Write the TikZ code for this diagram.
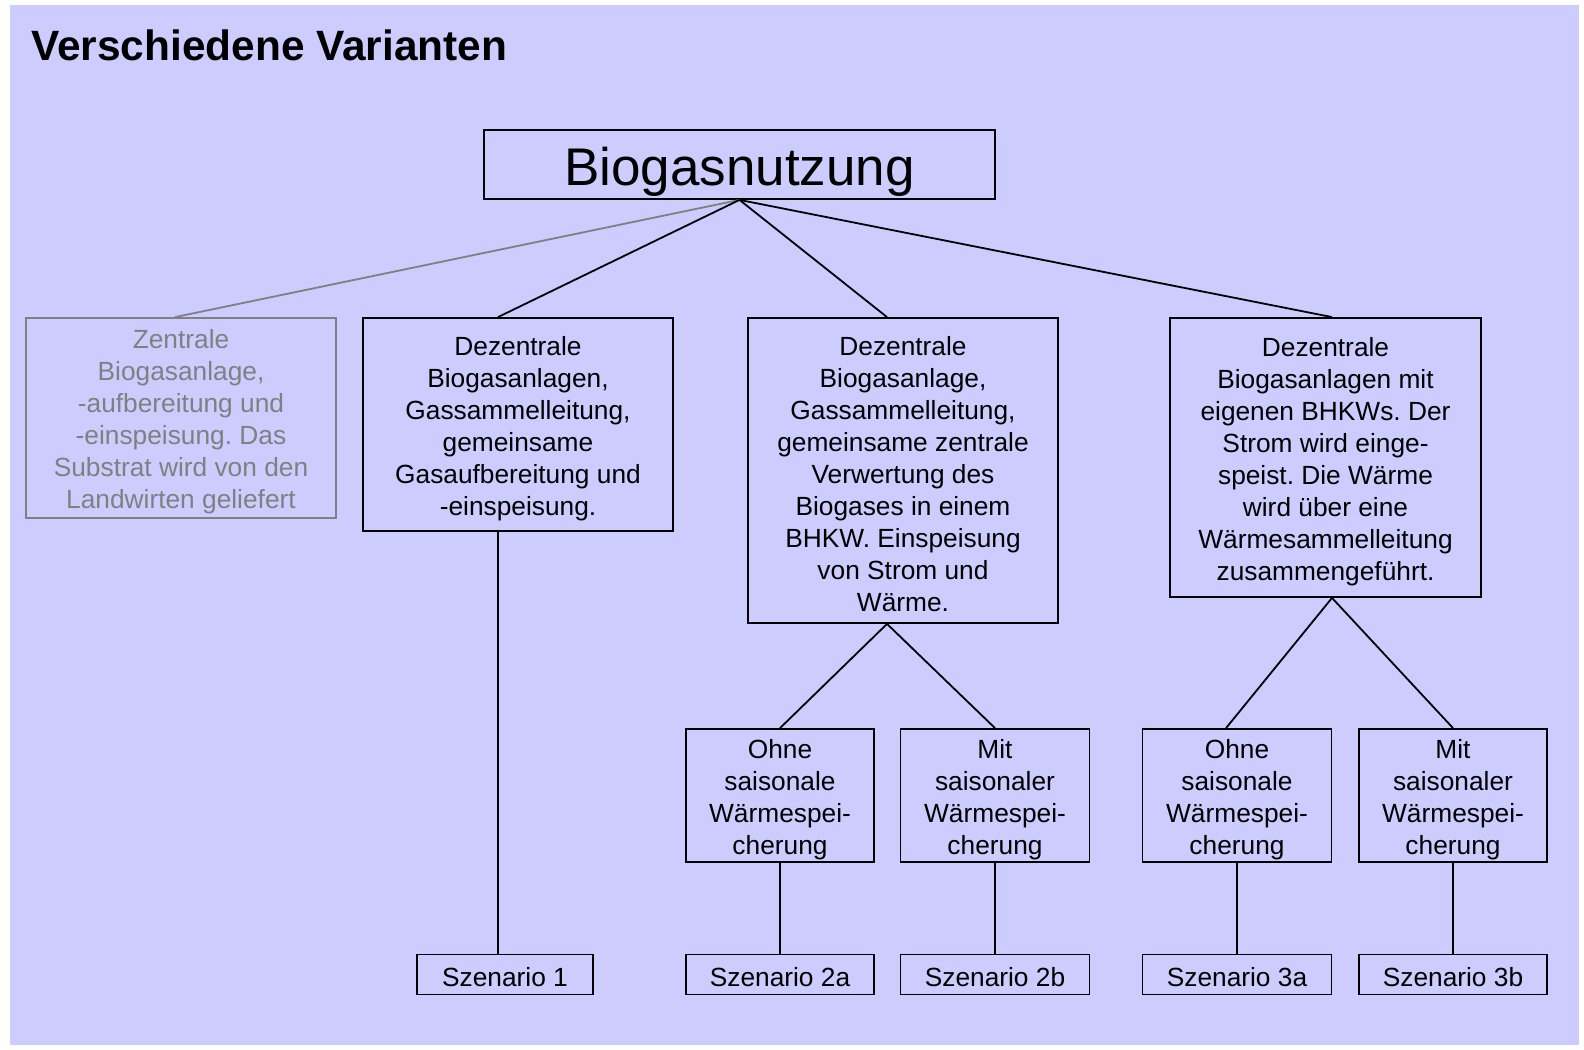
\documentclass[tikz,border=0pt]{standalone}
\usepackage{fontspec}
\setmainfont{Liberation Sans}
\definecolor{bgblue}{HTML}{CCCCFF}
\definecolor{grayish}{HTML}{808080}
\newcommand\mystrut{\rule{0pt}{27.2pt}}
\newcommand\scstrut{\rule{0pt}{23.5pt}}
\newcommand\rootstrut{\rule{0pt}{52pt}}
\frenchspacing
\begin{document}
\begin{tikzpicture}[x=1pt,y=-1pt,
  box/.style={draw=black, line width=1.8pt, inner sep=0pt, align=center,
    font=\fontsize{26.3}{32}\selectfont},
  graybox/.style={box, draw=grayish, text=grayish},
  edge/.style={line width=1.8pt, draw=black},
  grayedge/.style={line width=1.8pt, draw=grayish}]
\useasboundingbox (0,0) rectangle (1584,1049);
\fill[bgblue] (10,5) rectangle (1579,1045);

\node[anchor=base west, inner sep=0pt, font=\fontsize{42.4}{50}\selectfont\bfseries] (title) at (31,61) {Verschiedene Varianten};

\node[box, minimum width=511pt, minimum height=69pt, font=\fontsize{53}{60}\selectfont] (root) at (739.5,164.5) {\rootstrut Biogasnutzung};

\node[graybox, minimum width=310pt, minimum height=200pt] (A) at (181,418)
  {\mystrut Zentrale\\Biogasanlage,\\-aufbereitung und\\-einspeisung. Das\\Substrat wird von den\\Landwirten geliefert};
\node[box, minimum width=310pt, minimum height=213pt] (B) at (518,424.5)
  {\mystrut Dezentrale\\Biogasanlagen,\\Gassammelleitung,\\gemeinsame\\Gasaufbereitung und\\-einspeisung.};
\node[box, minimum width=310pt, minimum height=305pt] (C) at (903,470.5)
  {\mystrut Dezentrale\\Biogasanlage,\\Gassammelleitung,\\gemeinsame zentrale\\Verwertung des\\Biogases in einem\\BHKW. Einspeisung\\von Strom und\\Wärme.};
\node[box, minimum width=311pt, minimum height=279pt] (D) at (1325.5,457.5)
  {\mystrut Dezentrale\\Biogasanlagen mit\\eigenen BHKWs. Der\\Strom wird einge-\\speist. Die Wärme\\wird über eine\\Wärmesammelleitung\\zusammengeführt.};

\node[box, minimum width=188pt, minimum height=133pt] (C1) at (780,795.5)
  {\mystrut Ohne\\saisonale\\Wärmespei-\\cherung};
\node[box, minimum width=189pt, minimum height=133pt] (C2) at (995,795.5)
  {\mystrut Mit\\saisonaler\\Wärmespei-\\cherung};
\node[box, minimum width=189pt, minimum height=133pt] (D1) at (1237,795.5)
  {\mystrut Ohne\\saisonale\\Wärmespei-\\cherung};
\node[box, minimum width=188pt, minimum height=133pt] (D2) at (1453,795.5)
  {\mystrut Mit\\saisonaler\\Wärmespei-\\cherung};

\node[box, minimum width=176pt, minimum height=40pt] (S1) at (505,974.5) {\scstrut Szenario 1};
\node[box, minimum width=188pt, minimum height=40pt] (S2a) at (780,974.5) {\scstrut Szenario 2a};
\node[box, minimum width=189pt, minimum height=40pt] (S2b) at (995,974.5) {\scstrut Szenario 2b};
\node[box, minimum width=189pt, minimum height=40pt] (S3a) at (1237,974.5) {\scstrut Szenario 3a};
\node[box, minimum width=188pt, minimum height=40pt] (S3b) at (1453,974.5) {\scstrut Szenario 3b};

\draw[grayedge] (root.south) -- ([xshift=-6pt]A.north);
\draw[edge] (root.south) -- ([xshift=-20pt]B.north);
\draw[edge] (root.south) -- ([xshift=-16pt]C.north);
\draw[edge] (root.south) -- ([xshift=6.5pt]D.north);

\draw[edge] ([xshift=-20pt]B.south) -- ([xshift=-7pt]S1.north);

\draw[edge] ([xshift=-16pt]C.south) -- (C1.north);
\draw[edge] ([xshift=-16pt]C.south) -- (C2.north);
\draw[edge] ([xshift=6.5pt]D.south) -- ([xshift=-11pt]D1.north);
\draw[edge] ([xshift=6.5pt]D.south) -- (D2.north);

\draw[edge] (C1.south) -- (S2a.north);
\draw[edge] (C2.south) -- (S2b.north);
\draw[edge] (D1.south) -- (S3a.north);
\draw[edge] (D2.south) -- (S3b.north);
\end{tikzpicture}
\end{document}
